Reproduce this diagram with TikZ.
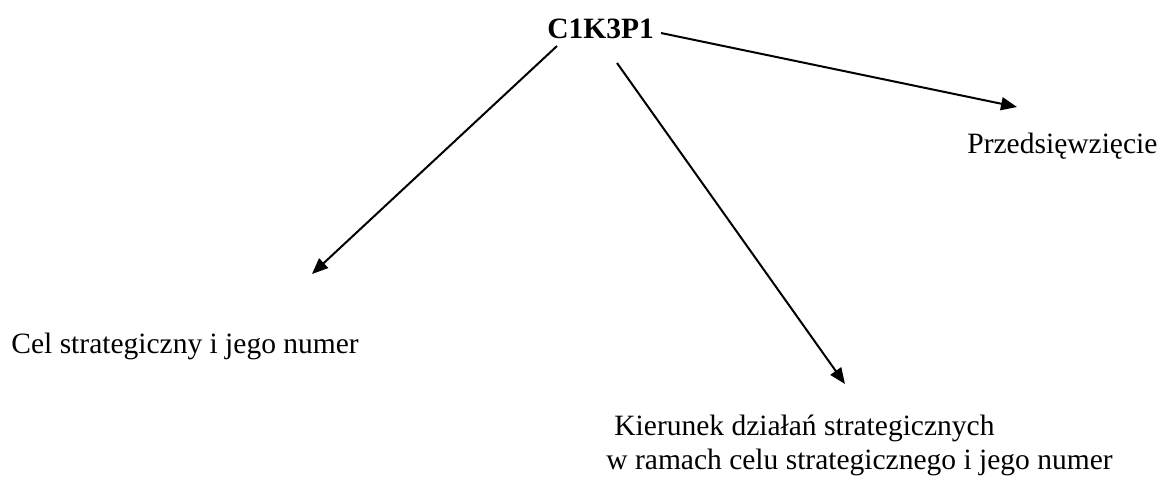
\documentclass[tikz,border=0pt]{standalone}
\usepackage{fontspec}
\setmainfont{Liberation Serif}
\usetikzlibrary{arrows.meta}

\begin{document}
\begin{tikzpicture}[x=0.5pt, y=-0.5pt, every node/.style={inner sep=0pt, anchor=base west, font=\fontsize{14.75}{17}\selectfont}, arr/.style={line width=1pt, -{Triangle[length=8pt,width=6.5pt]}}]
  \useasboundingbox (0,0) rectangle (1157,479);

  % Labels (coords in px, y goes down)
  \node (kod) at (547,38) {\textbf{C1K3P1}};
  \node (przed) at (967,153) {Przedsięwzięcie};
  \node (cel) at (11,353) {Cel strategiczny i jego numer};
  \node (kier) at (614,435) {Kierunek działań strategicznych};
  \node (kierb) at (606,469) {w ramach celu strategicznego i jego numer};

  % Arrow ends
  \coordinate (celstart) at (557,46);
  \coordinate (celend) at (312,274);
  \coordinate (kierstart) at (617,63);
  \coordinate (kierend) at (845,384);
  \coordinate (przedstart) at (661,33);
  \coordinate (przedend) at (1017,107);

  % Arrows
  \draw[arr] (celstart) -- (celend);
  \draw[arr] (kierstart) -- (kierend);
  \draw[arr] (przedstart) -- (przedend);

\end{tikzpicture}
\end{document}
